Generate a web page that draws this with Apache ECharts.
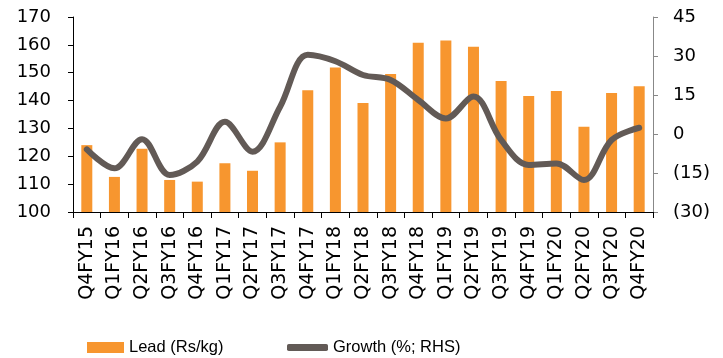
<!DOCTYPE html>
<html>
<head>
<meta charset="utf-8">
<script src="https://cdn.jsdelivr.net/npm/echarts@6/dist/echarts.min.js"></script>
<style>
  html, body { margin: 0; padding: 0; background: #fff; }
  #chart { width: 723px; height: 358px; }
</style>
</head>
<body>
<div id="chart"></div>
<script>
const quarters = [
  "Q4FY15", "Q1FY16", "Q2FY16", "Q3FY16", "Q4FY16", "Q1FY17", "Q2FY17",
  "Q3FY17", "Q4FY17", "Q1FY18", "Q2FY18", "Q3FY18", "Q4FY18", "Q1FY19",
  "Q2FY19", "Q3FY19", "Q4FY19", "Q1FY20", "Q2FY20", "Q3FY20", "Q4FY20"
];
const leadPrice = [
  124, 112.6, 122.7, 111.5, 110.9, 117.5, 114.8, 125, 143.7, 151.9, 139.1,
  149.5, 160.8, 161.6, 159.3, 147, 141.6, 143.4, 130.6, 142.7, 145.1
];
const growth = [
  -5.9, -13.2, -2.0, -15.8, -10.6, 4.7, -6.8, 10.5, 30.5, 28, 22.7,
  20.8, 13.1, 6.0, 14.4, -2.3, -11.9, -11.3, -17.7, -2.3, 2.4
];

const FONT = "DejaVu Sans";
const chart = echarts.init(document.getElementById("chart"));

chart.setOption({
  animation: false,
  grid: { left: 73, right: 70, top: 17, bottom: 146, containLabel: false },
  legend: [
    {
      data: ["Lead (Rs/kg)"],
      left: 82, top: 334,
      icon: "rect", itemWidth: 37, itemHeight: 11,
      textStyle: { fontFamily: "Liberation Sans", fontSize: 16.5, color: "#000" }
    },
    {
      data: ["Growth (%; RHS)"],
      left: 282, top: 334,
      icon: "roundRect", itemWidth: 41, itemHeight: 7,
      textStyle: { fontFamily: "Liberation Sans", fontSize: 16.5, color: "#000" }
    }
  ],
  xAxis: {
    type: "category",
    data: quarters,
    axisLine: { onZero: false, lineStyle: { color: "#000", width: 1 } },
    axisTick: { show: true, length: 6, lineStyle: { color: "#000" } },
    axisLabel: {
      rotate: 90, margin: 14, interval: 0,
      fontFamily: FONT, fontSize: 19, color: "#000"
    }
  },
  yAxis: [
    {
      type: "value", min: 100, max: 170, interval: 10,
      axisLine: { show: true, lineStyle: { color: "#000" } },
      axisTick: { show: true, length: 5, lineStyle: { color: "#000" } },
      splitLine: { show: false },
      axisLabel: { margin: 22, fontFamily: FONT, fontSize: 18, color: "#000" }
    },
    {
      type: "value", min: -30, max: 45, interval: 15,
      position: "right",
      axisLine: { show: true, lineStyle: { color: "#888" } },
      axisTick: { show: true, length: 5, lineStyle: { color: "#888" } },
      splitLine: { show: false },
      axisLabel: {
        margin: 20, fontFamily: FONT, fontSize: 18, color: "#000",
        formatter: v => (v < 0 ? "(" + Math.abs(v) + ")" : String(v))
      }
    }
  ],
  series: [
    {
      name: "Lead (Rs/kg)",
      type: "bar",
      data: leadPrice,
      barWidth: 11,
      itemStyle: { color: "#F7962F" }
    },
    {
      name: "Growth (%; RHS)",
      type: "line",
      yAxisIndex: 1,
      data: growth,
      smooth: 0.35,
      showSymbol: false,
      lineStyle: { color: "#625A56", width: 6, cap: "round" },
      itemStyle: { color: "#625A56" }
    }
  ]
});
</script>
</body>
</html>
